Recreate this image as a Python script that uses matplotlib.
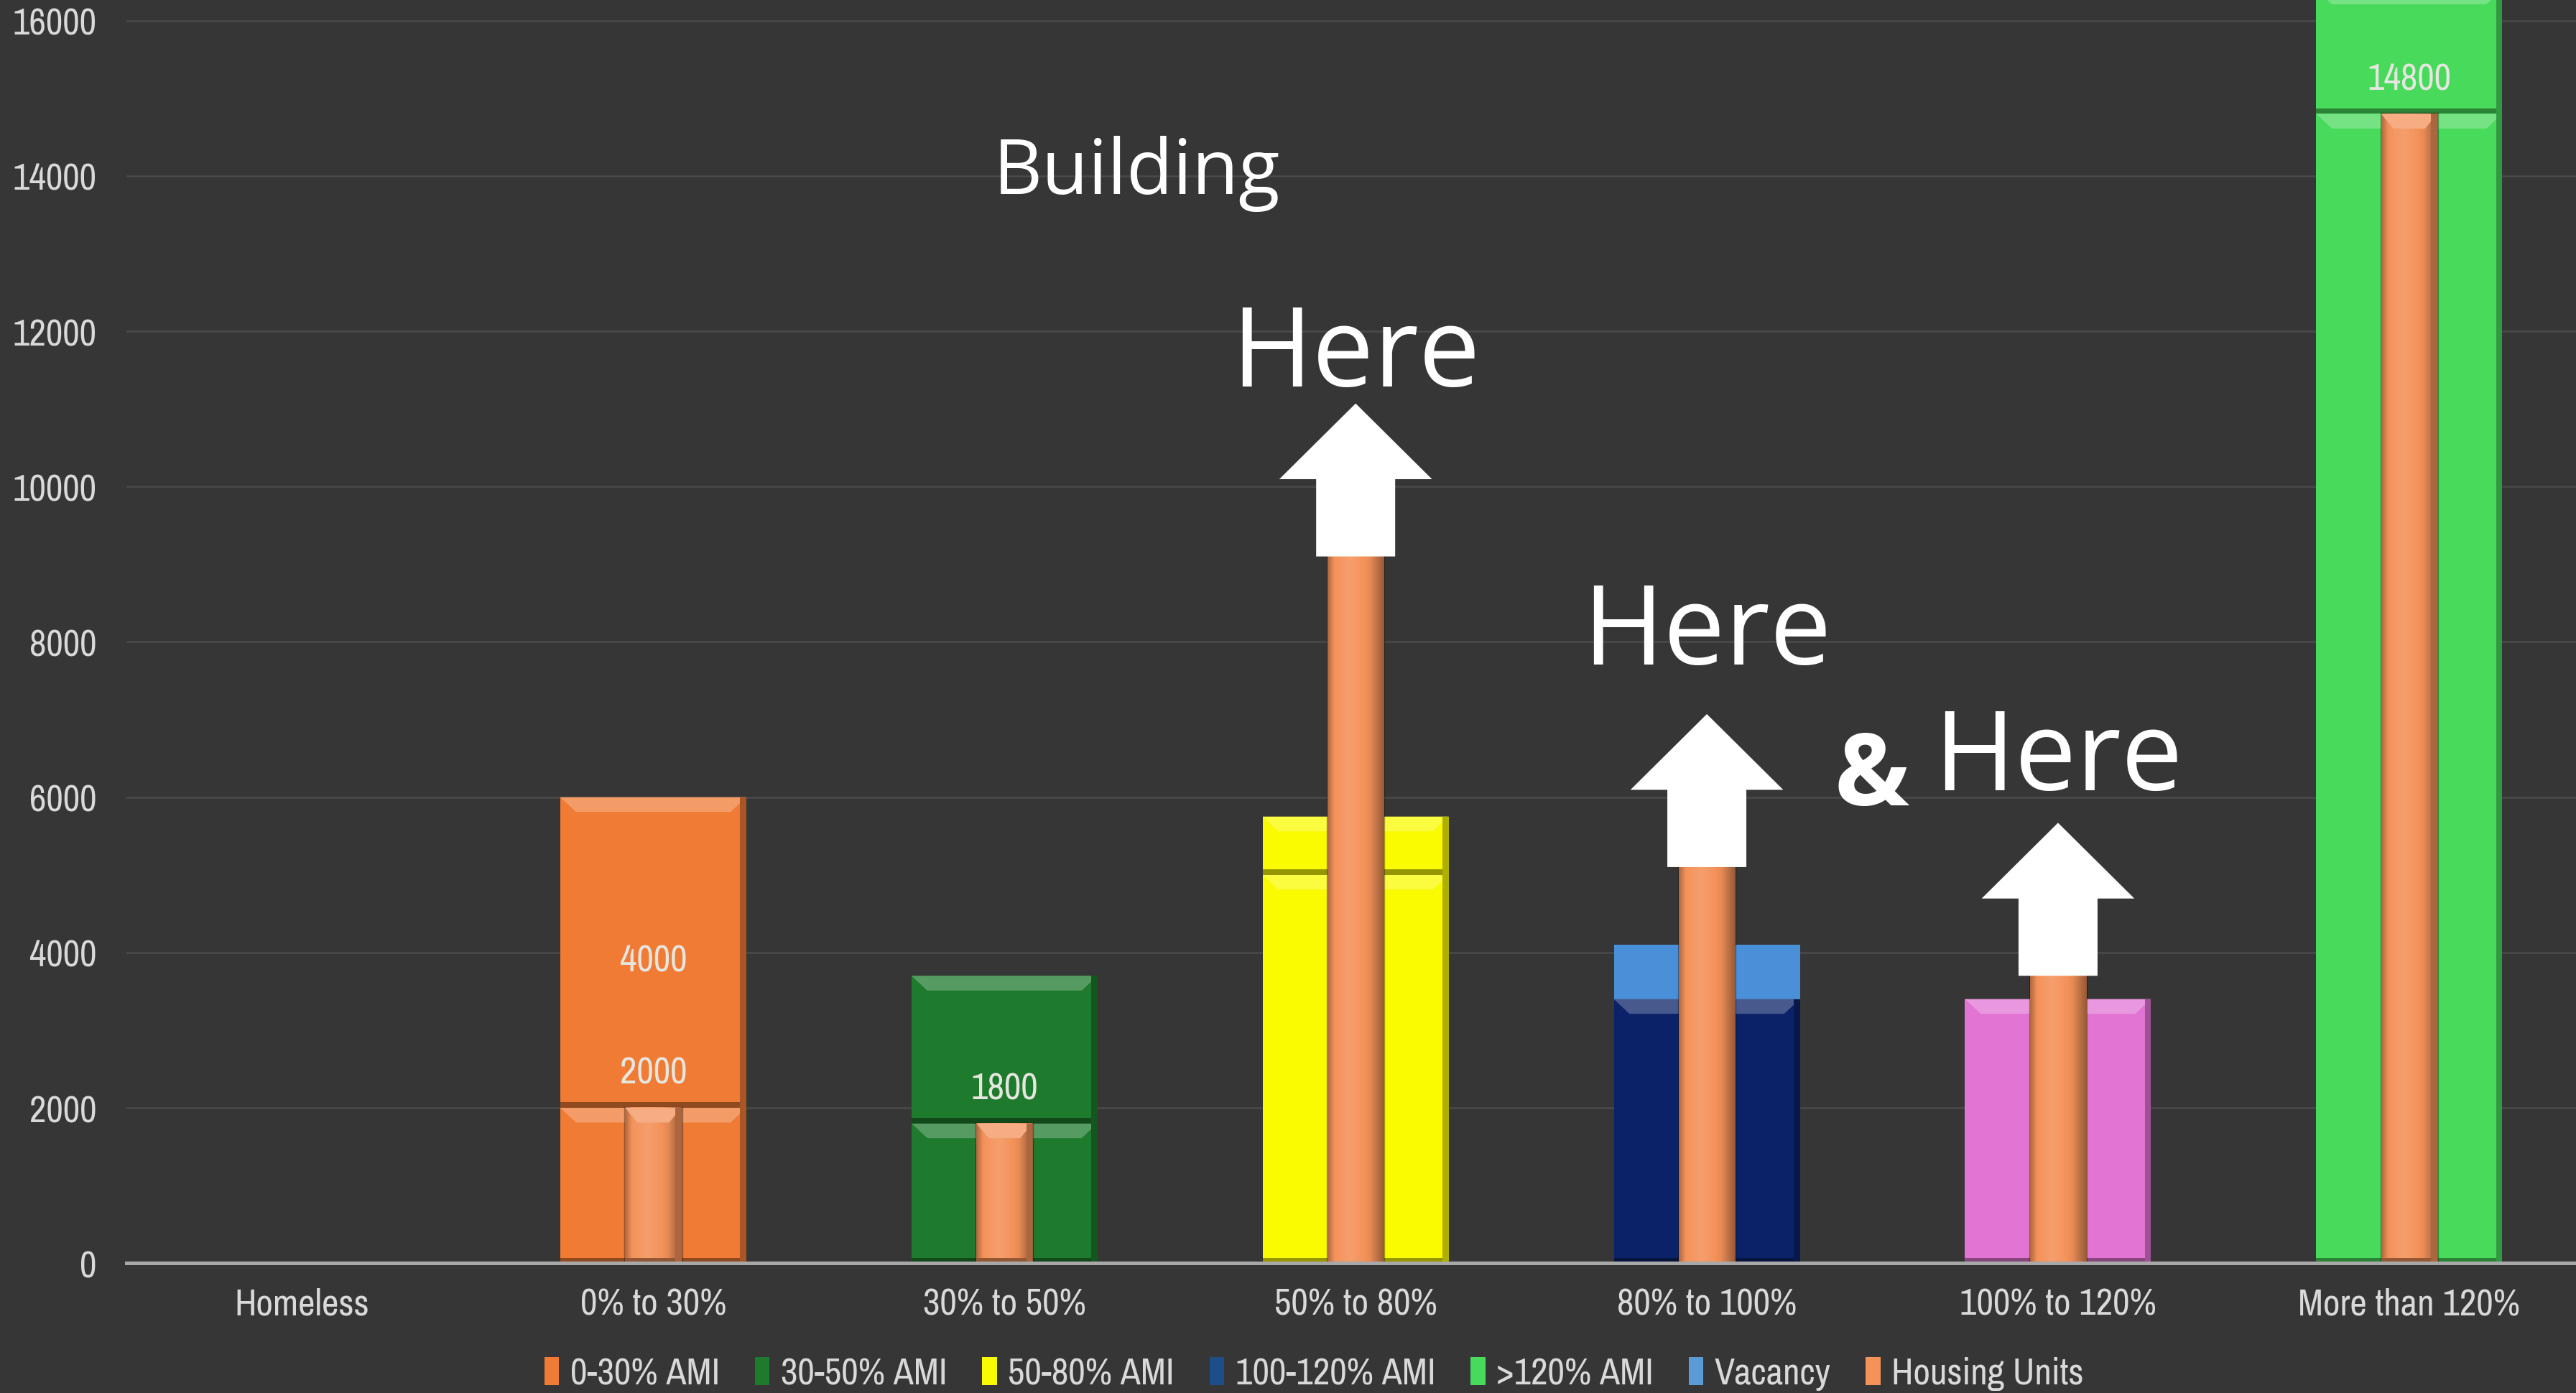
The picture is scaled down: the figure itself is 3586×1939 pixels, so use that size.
import numpy as np
import matplotlib.pyplot as plt
from matplotlib import font_manager
from matplotlib.patches import Polygon, Patch
from matplotlib.colors import to_rgb

categories = ["Homeless", "0% to 30%", "30% to 50%", "50% to 80%",
              "80% to 100%", "100% to 120%", "More than 120%"]
lower = [0, 2000, 1800, 5000, 3400, 3400, 14800]
upper = [0, 4000, 1900, 750, 0, 0, 1600]
vacancy = [0, 0, 0, 0, 700, 0, 0]
housing_units = [0, 2000, 1800, 9100, 5100, 3700, 14800]
lower_labels = [False, True, True, False, False, False, True]
upper_labels = [False, True, False, False, False, False, False]
arrow_cats = [3, 4, 5]
yticks = [0, 2000, 4000, 6000, 8000, 10000, 12000, 14000, 16000]

legend_names = ["0-30% AMI", "30-50% AMI", "50-80% AMI", "100-120% AMI",
                ">120% AMI", "Vacancy", "Housing Units"]

BG = "#363636"
TXT = "#D9D9D9"
bar_colors = ["#F07B35", "#F07B35", "#1E7A2C", "#FAFA00", "#0B2268", "#E274D3", "#47DA5B"]
vac_color = "#4A90D9"
hu_color = "#F4925A"
legend_colors = ["#F07B35", "#1E7A2C", "#FAFA00", "#1D4E89", "#47DA5B", "#5B9BD5", "#F4925A"]

SANS = ["Open Sans", "DejaVu Sans"]


def pick_narrow():
    # look for a condensed face among the installed fonts
    fonts = font_manager.fontManager.ttflist
    for f in fonts:
        if "Narrow" in f.name or "Condensed" in f.name:
            if f.weight in (400, "normal", "regular") and f.style == "normal":
                return {"family": [f.name, "DejaVu Sans"], "stretch": "normal"}, 18.5
    for fam in ("Noto Sans", "Open Sans", "Roboto", "DejaVu Sans"):
        for f in fonts:
            if f.name == fam and f.stretch in ("condensed", "semi-condensed", 300, 400) \
                    and f.stretch != "normal" and f.style == "normal":
                return {"family": [fam, "DejaVu Sans"], "stretch": f.stretch}, 18.5
    return {"family": ["Noto Sans", "DejaVu Sans"], "stretch": "normal"}, 15


NARROW, NSIZE = pick_narrow()


def tint(color, f):
    c = np.array(to_rgb(color))
    if f >= 1:
        return tuple(c + (1 - c) * (f - 1))
    return tuple(c * f)


def gradient_rect(ax, x0, x1, y0, y1, color, xs, fs, z):
    t = np.linspace(0, 1, 80)
    f = np.interp(t, xs, fs)
    img = np.array([tint(color, v) for v in f])[None, :, :]
    ax.imshow(img, extent=(x0, x1, y0, y1), aspect="auto",
              interpolation="bilinear", zorder=z)


def bevel(ax, patch, color, z, bx=0.045):
    x0, w = patch.get_x(), patch.get_width()
    y0, h = patch.get_y(), patch.get_height()
    if h <= 0:
        return
    y1 = y0 + h
    by = min(190, h * 0.3)
    ax.add_patch(Polygon([(x0, y1), (x0 + w, y1), (x0 + w - bx, y1 - by), (x0 + bx, y1 - by)],
                         closed=True, fc=tint(color, 1.25), ec="none", zorder=z))
    ax.add_patch(Polygon([(x0, y0), (x0 + w, y0), (x0 + w, y0 + 70), (x0, y0 + 70)],
                         closed=True, fc=tint(color, 0.6), ec="none", zorder=z))
    ax.add_patch(Polygon([(x0 + w - 0.018, y0), (x0 + w, y0), (x0 + w, y1), (x0 + w - 0.018, y1)],
                         closed=True, fc=tint(color, 0.7), ec="none", zorder=z))


def main():
    fig = plt.figure(figsize=(3587 / 200, 1940 / 200), dpi=200, facecolor=BG)
    ax = fig.add_axes([0.0491, 0.0932, 0.9509, 0.9068])
    ax.set_facecolor(BG)
    x = np.arange(len(categories))

    b1 = ax.bar(x, lower, width=0.53, color=bar_colors, zorder=2)
    b2 = ax.bar(x, upper, width=0.53, bottom=lower, color=bar_colors, zorder=2)
    ax.bar(x, vacancy, width=0.53, bottom=lower, color=vac_color, zorder=2)
    for bars in (b1, b2):
        for p, c in zip(bars, bar_colors):
            bevel(ax, p, c, 2.5)

    hu = ax.bar(x, housing_units, width=0.16, color=hu_color, zorder=3,
                edgecolor=(0, 0, 0, 0.35), linewidth=1.2)
    for i, p in enumerate(hu):
        if p.get_height() <= 0:
            continue
        x0, w, h = p.get_x(), p.get_width(), p.get_height()
        gradient_rect(ax, x0, x0 + w, 0, h, hu_color,
                      [0, 0.12, 0.4, 0.75, 1], [0.72, 1.0, 1.12, 0.95, 0.62], 3.2)
        if i not in arrow_cats:
            bevel(ax, p, hu_color, 3.4, bx=0.035)

    for i in range(len(categories)):
        if lower_labels[i]:
            ax.text(x[i], lower[i] + 450, str(lower[i]), ha="center", va="center",
                    color="#E6E6E0", fontsize=NSIZE, zorder=4, **NARROW)
        if upper_labels[i]:
            ax.text(x[i], lower[i] + upper[i] / 2 - 100, str(upper[i]), ha="center",
                    va="center", color="#E6E6E0", fontsize=NSIZE, zorder=4, **NARROW)

    for i in arrow_cats:
        ax.arrow(x[i], housing_units[i], 0, 1970, width=0.225, head_width=0.435,
                 head_length=975, length_includes_head=True, fc="white", ec="none", zorder=5)

    ax.text(2.377, 13780, "Building", ha="center", va="baseline", color="white",
            fontsize=38, family=SANS, zorder=6)
    ax.text(3.0, 11300, "Here", ha="center", va="baseline", color="white",
            fontsize=55, family=SANS, zorder=6)
    ax.text(4.0, 7720, "Here", ha="center", va="baseline", color="white",
            fontsize=55, family=SANS, zorder=6)
    ax.text(5.0, 6100, "Here", ha="center", va="baseline", color="white",
            fontsize=55, family=SANS, zorder=6)
    ax.text(4.47, 5900, "&", ha="center", va="baseline", color="white",
            fontsize=50, fontweight="bold", family=SANS, zorder=6)

    ax.set_xlim(-0.5, 6.477)
    ax.set_ylim(0, 16275)
    ax.set_yticks(yticks)
    ax.set_xticks(x)
    ax.set_xticklabels(categories, fontsize=NSIZE, color=TXT, **NARROW)
    ax.set_yticklabels([str(v) for v in yticks], fontsize=NSIZE, color=TXT, **NARROW)
    ax.tick_params(axis="both", length=0)
    ax.tick_params(axis="y", pad=15)
    ax.tick_params(axis="x", pad=12)
    ax.grid(axis="y", color="#4A4A4A", linewidth=0.9, zorder=0)
    ax.set_axisbelow(True)
    for s in ("top", "right", "left"):
        ax.spines[s].set_visible(False)
    ax.spines["bottom"].set_color("#A8A8A8")
    ax.spines["bottom"].set_linewidth(1.8)
    ax.spines["bottom"].set_zorder(4)

    handles = [Patch(facecolor=c, edgecolor="none") for c in legend_colors]
    fig.legend(handles, legend_names, loc="center", bbox_to_anchor=(0.51, 0.014),
               ncol=len(handles), frameon=False,
               prop={"family": NARROW["family"], "stretch": NARROW["stretch"], "size": NSIZE},
               labelcolor=TXT, handlelength=0.4, handleheight=0.8,
               handletextpad=0.3, columnspacing=0.95)

    fig.savefig("out.png", dpi=200, facecolor=BG)


if __name__ == "__main__":
    main()
